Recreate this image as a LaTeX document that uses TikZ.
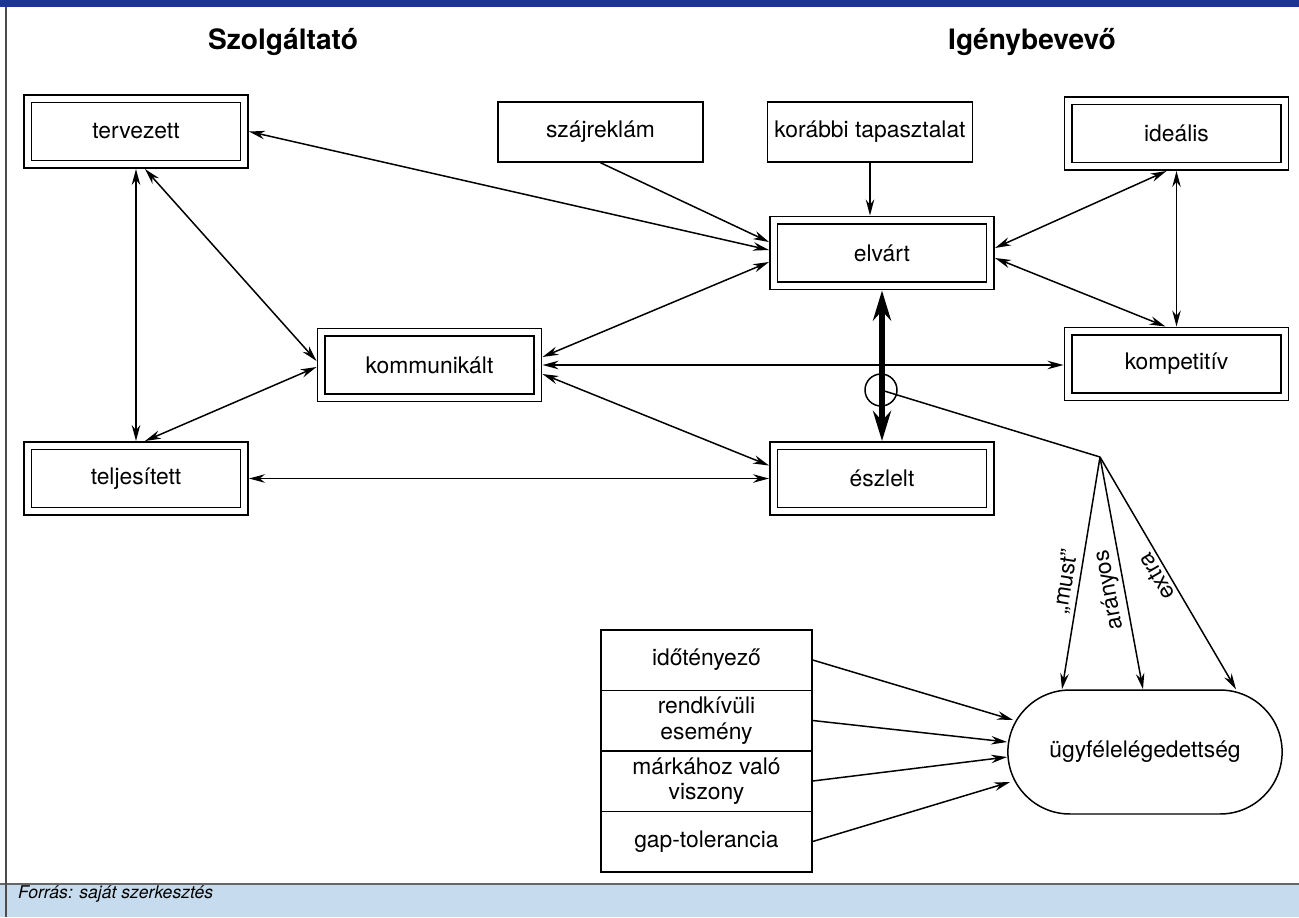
\documentclass[tikz,border=0pt]{standalone}
\usepackage{fontspec}
\setmainfont{TeX Gyre Heros}
\usetikzlibrary{arrows.meta,shapes.misc}
\definecolor{topblue}{RGB}{28,52,150}
\definecolor{footblue}{RGB}{198,220,238}

\begin{document}
\begin{tikzpicture}[x=0.02cm,y=-0.02cm,
	every node/.style={font=\fontsize{13}{14.5}\selectfont},
	dbox/.style={draw,double,double distance=1.25mm,line width=0.85pt,minimum width=4.33cm,minimum height=1.31cm,outer sep=0.95mm},
	sbox/.style={draw,line width=0.85pt,minimum width=4.1cm,minimum height=1.2cm},
	rowbox/.style={draw,line width=0.85pt,minimum width=4.22cm,minimum height=1.21cm,align=center},
	link/.style={line width=0.85pt,{Stealth[length=3.2mm,width=1.7mm]}-{Stealth[length=3.2mm,width=1.7mm]}},
	feed/.style={line width=0.85pt,-{Stealth[length=3.2mm,width=1.7mm]}}]
	\useasboundingbox (0,0) rectangle (1299,917);

	% Page frame
	\fill[topblue] (0,0) rectangle (1299,7);
	\fill[footblue] (0,884) rectangle (1299,917);
	\draw[black!60,line width=0.6pt] (0,884) -- (1299,884);
	\draw[black!70,line width=0.6pt] (6,7) -- (6,917);

	% Headings and source
	\node[font=\fontsize{16}{19}\selectfont\bfseries] (szolg) at (283,42) {Szolgáltató};
	\node[font=\fontsize{16}{19}\selectfont\bfseries] (igeny) at (1032,42) {Igénybevevő};
	\node[anchor=west,font=\fontsize{10}{12}\selectfont\itshape] (forras) at (12,894) {Forrás: saját szerkesztés};

	% Quality levels
	\node[dbox] (terv) at (136,131.5) {tervezett};
	\node[dbox] (telj) at (136,478.5) {teljesített};
	\node[dbox] (komm) at (429.5,365) {kommunikált};
	\node[sbox] (szaj) at (600.5,132) {szájreklám};
	\node[sbox] (kor) at (870,132) {korábbi tapasztalat};
	\node[dbox] (elv) at (882,253) {elvárt};
	\node[dbox] (ideal) at (1176.5,133.5) {ideális};
	\node[dbox] (komp) at (1176.5,364) {kompetitív};
	\node[dbox] (eszl) at (882,478.5) {észlelt};

	% Factors and satisfaction
	\foreach \lbl [count=\i] in {időtényező,{rendkívüli\\esemény},{márkához való\\viszony},gap-tolerancia}
		\node[rowbox] (row\i) at (706.5,599.5+60.5*\i) {\lbl};
	\node[draw,rounded rectangle,line width=0.85pt,minimum width=5.72cm,minimum height=2.48cm] (sat) at (1145,752) {ügyfélelégedettség};

	% Links between the levels
	\draw[link] (terv.east) -- ([shift={(0,-3)}]elv.west);
	\draw[feed] (szaj.south) -- ([shift={(0,-11)}]elv.west);
	\draw[feed] (kor.south) -- (kor.south |- elv.north);
	\draw[link] (terv.south) -- (telj.north);
	\draw[link] ([shift={(9,0)}]terv.south) -- ([shift={(0,-4)}]komm.west);
	\draw[link] ([shift={(9,0)}]telj.north) -- ([shift={(0,2)}]komm.west);
	\draw[link] ([shift={(0,-8)}]komm.east) -- ([shift={(0,9)}]elv.west);
	\draw[link] (komm.east) -- (komm.east -| komp.west);
	\draw[link] ([shift={(0,9)}]komm.east) -- ([shift={(0,-13)}]eszl.west);
	\draw[link] (telj.east) -- (eszl.west);
	\draw[link] ([shift={(0,-5)}]elv.east) -- ([shift={(-10,0)}]ideal.south);
	\draw[link] ([shift={(0,5)}]elv.east) -- ([shift={(-11,0)}]komp.north);
	\draw[link] (ideal.south) -- (komp.north);

	% Gap between expected and perceived
	\draw[line width=3pt,{Stealth[length=6mm,width=3.6mm]}-{Stealth[length=6mm,width=3.6mm]}] (elv.south) -- (eszl.north);
	\node[draw,circle,line width=0.85pt,minimum size=0.64cm,inner sep=0pt] (gap) at (881,390) {};
	\coordinate (fork) at (1100,457);
	\draw[line width=0.85pt] (gap.center) -- (fork);
	\draw[feed] (fork) -- node[pos=0.545,rotate=80.7,anchor=south,inner sep=2pt] {„must”} ([shift={(-83,0)}]sat.north);
	\draw[feed] (fork) -- node[pos=0.56,rotate=100.5,anchor=south,inner sep=2pt] {arányos} ([shift={(-2,0)}]sat.north);
	\draw[feed] (fork) -- node[pos=0.49,rotate=120.3,anchor=south,inner sep=2pt] {extra} ([shift={(91,0)}]sat.north);

	% Factors into satisfaction
	\draw[feed] (row1.east) -- ([shift={(6,-32)}]sat.west);
	\draw[feed] (row2.east) -- ([shift={(0,-10)}]sat.west);
	\draw[feed] (row3.east) -- ([shift={(0,5)}]sat.west);
	\draw[feed] (row4.east) -- ([shift={(3,30)}]sat.west);
\end{tikzpicture}
\end{document}
